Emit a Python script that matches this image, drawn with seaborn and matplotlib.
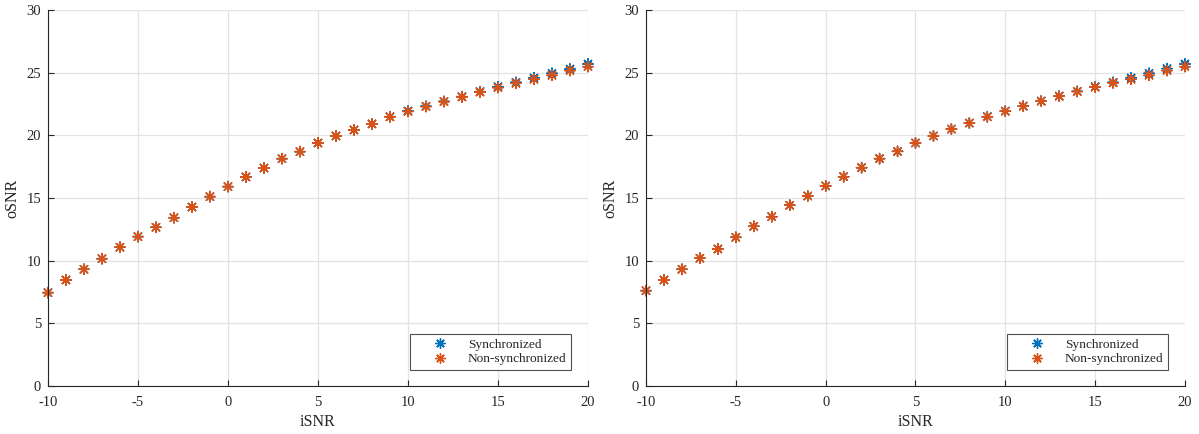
import numpy as np
import pandas as pd
import matplotlib
matplotlib.use("Agg")
import matplotlib.pyplot as plt
import seaborn as sns

isnr = list(range(-10, 21))

# Left panel
left_sync = [7.45, 8.46, 9.31, 10.16, 11.07, 11.92, 12.66, 13.43, 14.28, 15.11,
             15.91, 16.68, 17.39, 18.14, 18.70, 19.39, 19.95, 20.43, 20.91, 21.49,
             21.94, 22.32, 22.71, 23.09, 23.49, 23.88, 24.23, 24.58, 24.95, 25.29, 25.69]
left_nonsync = [7.45, 8.46, 9.31, 10.16, 11.07, 11.92, 12.66, 13.43, 14.28, 15.11,
                15.91, 16.68, 17.39, 18.14, 18.70, 19.39, 19.95, 20.43, 20.91, 21.47,
                21.90, 22.29, 22.68, 23.06, 23.45, 23.80, 24.15, 24.47, 24.79, 25.16, 25.48]

# Right panel
right_sync = [7.61, 8.46, 9.31, 10.19, 10.93, 11.86, 12.74, 13.51, 14.42, 15.16,
              15.96, 16.70, 17.42, 18.14, 18.72, 19.39, 19.95, 20.50, 20.98, 21.49,
              21.94, 22.34, 22.74, 23.14, 23.51, 23.88, 24.23, 24.58, 24.95, 25.32, 25.69]
right_nonsync = [7.61, 8.46, 9.31, 10.19, 10.93, 11.86, 12.74, 13.51, 14.42, 15.16,
                 15.96, 16.70, 17.42, 18.14, 18.72, 19.39, 19.95, 20.50, 20.98, 21.47,
                 21.92, 22.32, 22.72, 23.12, 23.49, 23.84, 24.18, 24.47, 24.79, 25.16, 25.48]

series_names = ["Synchronized", "Non-synchronized"]
colors = ["#0072BD", "#D95319"]
xticks = [-10, -5, 0, 5, 10, 15, 20]
yticks = [0, 5, 10, 15, 20, 25, 30]

sns.set_theme(style="white")
plt.rcParams['font.family'] = ['Liberation Serif', 'DejaVu Serif']
plt.rcParams['mathtext.fontset'] = 'stix'

fig = plt.figure(figsize=(11.99, 4.34), dpi=100)
ax_l = fig.add_axes([0.0400, 0.1106, 0.4504, 0.8664])
ax_r = fig.add_axes([0.5388, 0.1106, 0.4495, 0.8664])

asterisk = (8, 2, 0)

for ax, ys, yn in [(ax_l, left_sync, left_nonsync), (ax_r, right_sync, right_nonsync)]:
    df = pd.DataFrame({
        "iSNR": isnr + isnr,
        "oSNR": ys + yn,
        "series": [series_names[0]] * len(isnr) + [series_names[1]] * len(isnr),
    })
    sns.scatterplot(data=df, x="iSNR", y="oSNR", hue="series",
                    palette=dict(zip(series_names, colors)),
                    marker=asterisk, s=55, linewidth=1.0, ax=ax, zorder=3,
                    clip_on=False)
    ax.set_xlim(-10, 20)
    ax.set_ylim(0, 30)
    ax.set_xticks(xticks)
    ax.set_yticks(yticks)
    ax.set_xticklabels([str(t) for t in xticks])
    ax.set_yticklabels([str(t) for t in yticks])
    ax.grid(True, color="#e3e3e3", linewidth=0.9)
    ax.set_axisbelow(True)
    for side in ["top", "right"]:
        ax.spines[side].set_visible(False)
    for side in ["left", "bottom"]:
        ax.spines[side].set_color("#262626")
        ax.spines[side].set_linewidth(0.8)
        ax.spines[side].set_zorder(4)
    ax.tick_params(axis="both", direction="in", length=4, width=0.8,
                   color="#262626", labelsize=10.5, labelcolor="#262626",
                   left=True, bottom=True)
    ax.tick_params(axis="x", pad=7)
    ax.tick_params(axis="y", pad=5)
    ax.set_xlabel("iSNR", fontsize=11.5, color="#262626", labelpad=4)
    ax.set_ylabel("oSNR", fontsize=11.5, color="#262626", labelpad=4)
    leg = ax.legend(loc="lower right", bbox_to_anchor=(0.9685, 0.0426),
                    frameon=True, fancybox=False, fontsize=9.6,
                    borderpad=0.35, handletextpad=0.25, labelspacing=0.15,
                    borderaxespad=0, handlelength=3.7, markerscale=1.0)
    leg.get_frame().set_edgecolor("#262626")
    leg.get_frame().set_linewidth(0.8)
    for t in leg.get_texts():
        t.set_color("#262626")

fig.savefig("out.png", dpi=100)
